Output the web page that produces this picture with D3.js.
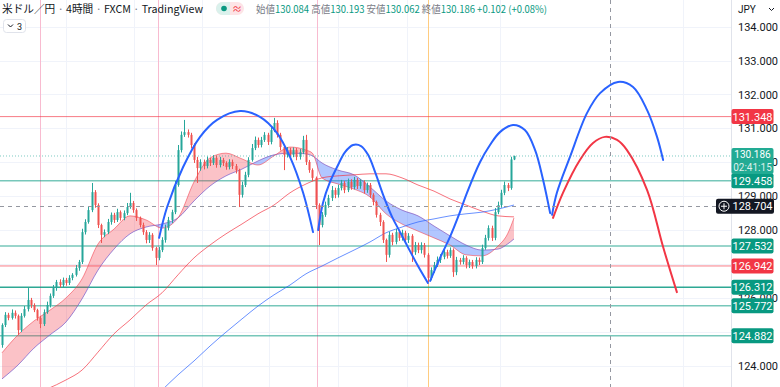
<!DOCTYPE html>
<html>
<head>
<meta charset="utf-8">
<script src="https://cdn.jsdelivr.net/npm/d3@7"></script>
<style>
  body { margin: 0; background: #fff; }
  svg { display: block; font-family: "Noto Sans CJK JP", Roboto, sans-serif; }
</style>
</head>
<body>
<svg id="chart" width="780" height="387"></svg>
<script>
// 4h candles, open of each bar = previous close
const firstOpen = 124.61;
const closes = [
  125.20,125.50,125.41,125.56,125.47,125.05,125.47,125.67,125.94,125.79,
  125.64,125.41,125.23,125.58,125.79,126.06,126.29,126.47,126.38,126.53,
  126.44,126.59,126.68,126.88,127.06,127.94,128.24,128.59,129.12,128.74,
  128.15,127.86,127.94,128.24,128.45,128.30,128.53,128.36,128.50,128.68,
  128.80,128.59,128.36,128.15,127.94,127.71,127.86,127.47,127.18,127.41,
  127.71,128.06,128.30,128.53,129.33,130.36,130.81,130.89,130.81,130.51,
  130.07,129.83,130.01,129.89,130.07,129.98,130.13,129.92,130.07,129.98,
  129.86,130.01,129.89,129.77,129.04,129.33,129.63,130.07,130.42,130.66,
  130.51,130.66,130.81,130.60,130.95,131.16,130.81,130.45,130.22,130.36,
  130.22,130.36,130.16,130.30,130.66,130.01,129.77,129.54,128.74,128.15,
  128.45,128.74,128.95,129.18,129.04,129.24,129.39,129.18,129.42,129.27,
  129.48,129.30,129.42,129.18,129.33,129.04,128.83,128.45,128.24,127.71,
  127.27,127.86,127.65,127.94,127.77,127.92,127.71,127.83,127.35,127.56,
  127.41,127.56,127.27,126.59,126.82,126.97,127.12,127.21,127.35,127.24,
  127.41,126.76,127.12,127.06,127.18,126.97,127.06,126.94,127.12,127.06,
  127.47,127.77,128.06,127.77,128.53,128.74,129.10,129.33,129.24,130.084,
  130.186
];
// wick lengths beyond the body, in 0.01 yen
const wickUp = [
  5,8,6,10,7,4,8,9,35,6, 5,4,6,8,10,7,9,6,8,7, 6,8,5,9,6,10,8,12,27,6,
  5,4,8,9,7,6,10,5,8,12, 30,6,5,4,7,6,8,5,4,9, 8,10,9,7,12,15,10,36,8,6,
  5,9,8,7,10,6,8,7,9,6, 5,8,7,6,4,10,9,8,12,10, 7,9,8,6,10,15,8,6,5,9,
  7,8,6,9,12,15,6,5,4,5, 8,10,9,12,7,10,9,6,10,8, 9,6,8,5,7,6,5,4,6,5,
  4,9,6,10,7,9,6,8,5,9, 7,8,6,5,8,9,10,8,9,7, 8,5,9,6,8,5,7,6,8,7,
  10,9,8,7,12,10,9,10,6,8, 1
];
const wickDn = [
  8,6,7,5,8,14,6,5,7,9, 6,8,12,6,5,7,6,8,7,6, 8,6,7,5,8,6,7,5,6,8,
  9,24,7,6,8,9,6,8,7,6, 5,8,9,7,8,10,9,8,21,7, 6,8,7,9,6,5,7,6,8,10,
  9,44,8,10,7,9,6,8,7,9, 8,7,9,10,36,8,6,7,5,6, 8,7,6,9,7,6,8,10,45,8,
  9,7,10,8,6,9,8,10,12,59, 7,6,8,9,10,8,7,9,6,8, 7,9,8,10,8,9,10,8,12,9,
  21,8,10,7,9,8,10,9,29,8, 9,10,8,12,7,8,6,9,7,8, 6,14,9,8,7,10,9,8,7,9,
  6,5,8,9,7,6,8,7,9,5, 2
];

// MA ribbon (fast / slow), sampled by bar index
const ribbonIdx = [0,5,10,15,20,25,30,35,40,45,50,55,60,65,70,75,80,85,90,95,97,100,105,110,115,120,125,130,135,140,145,150,155,158,160];
const fastMA = [124.38,124.91,125.32,125.64,126.00,126.56,127.59,128.03,128.42,128.30,128.06,128.36,129.42,130.13,130.27,130.10,129.92,130.19,130.45,130.36,130.27,129.54,129.36,129.21,128.98,128.48,128.18,127.97,127.77,127.56,127.27,127.24,127.53,127.89,128.36];
const slowMA = [123.61,124.02,124.52,124.91,125.29,125.97,126.82,127.44,127.89,128.09,128.18,128.36,128.86,129.30,129.60,129.80,130.04,130.22,130.27,130.25,130.19,129.98,129.77,129.63,129.27,128.86,128.59,128.42,128.12,127.83,127.56,127.41,127.44,127.59,127.74];

const ma75Idx = [14,20,25,30,35,40,45,50,55,60,65,70,75,80,85,90,95,100,105,110,115,120,125,130,135,140,145,150,155,160];
const ma75 = [123.31,123.58,123.87,124.40,124.94,125.35,125.79,126.15,126.68,127.18,127.56,127.89,128.18,128.48,128.74,129.10,129.36,129.54,129.60,129.63,129.66,129.66,129.54,129.33,129.15,128.92,128.74,128.56,128.42,128.39];
const ma200Idx = [50,55,60,65,70,75,80,85,90,95,100,105,110,115,120,125,130,135,140,145,150,155,160];
const ma200 = [123.28,123.73,124.14,124.58,124.99,125.38,125.76,126.09,126.38,126.71,126.94,127.18,127.41,127.65,127.92,128.09,128.24,128.33,128.42,128.48,128.53,128.62,128.74];

// hand-drawn arcs [bar index, price]
const blueArcs = [
  [[49.1,127.77],[51.6,128.68],[56.6,129.86],[61.9,130.75],[67.2,131.25],[74.4,131.51],[80.6,131.34],[85.9,130.87],[90.0,130.16],[94.1,129.10],[97.2,127.94]],
  [[98.8,128.00],[100.3,128.80],[102.5,129.42],[104.7,129.86],[107.2,130.30],[109.7,130.51],[112.2,130.48],[114.4,130.22],[116.6,129.71],[119.1,129.04],[121.9,128.39],[124.4,127.94],[127.5,127.38],[130.0,126.94],[133.1,126.44]],
  [[133.8,126.50],[136.9,127.18],[140.0,127.80],[143.1,128.53],[145.3,129.10],[149.4,130.01],[152.5,130.51],[155.6,130.89],[159.7,131.10],[163.4,130.95],[166.6,130.36],[169.1,129.48],[171.3,128.50]],
  [[171.9,128.45],[173.4,129.10],[177.5,130.16],[182.8,131.45],[186.9,132.04],[192.5,132.37],[197.2,132.22],[201.6,131.54],[204.7,130.75],[206.6,130.07]]
];
const redArc = [[172.2,128.36],[175.3,129.10],[180.6,130.07],[184.7,130.57],[188.4,130.75],[192.2,130.66],[195.3,130.36],[201.6,129.18],[206.6,127.50],[210.9,126.17]];

const redLevels = [131.348, 126.942];
const greenLevels = [129.458, 127.532, 126.312, 125.772, 124.882];
const lastPrice = 130.186;
const countdown = "02:41:15";
const crossPrice = 128.704;
const priceTicks = [124,125,126,127,128,129,130,131,132,133,134];
const gridIdx = [20, 41.3, 62.5, 83.4, 105, 126.6, 155.6, 212.8];
const sessionIdx = [11.9, 48.75, 98.4];
const highlightIdx = 133.1;
const crossIdx = 190;

const W = 780, H = 387, plotR = 731;
const svg = d3.select("#chart");
const x = d3.scaleLinear().domain([0, 160]).range([2, 514]);
const y = d3.scaleLinear().domain([124, 134]).range([365.7, 26.7]);

const defs = svg.append("defs");
defs.append("clipPath").attr("id", "pane").append("rect")
  .attr("x", 0).attr("y", 0).attr("width", plotR).attr("height", H);

const pane = svg.append("g").attr("clip-path", "url(#pane)");

// grid
pane.selectAll(".hg").data(priceTicks).join("line")
  .attr("x1", 0).attr("x2", plotR)
  .attr("y1", d => Math.round(y(d)) + 0.5).attr("y2", d => Math.round(y(d)) + 0.5)
  .attr("stroke", "#f0f3fa");
pane.selectAll(".vg").data(gridIdx).join("line")
  .attr("x1", d => Math.round(x(d)) + 0.5).attr("x2", d => Math.round(x(d)) + 0.5)
  .attr("y1", 0).attr("y2", H)
  .attr("stroke", "#f0f3fa");

// session markers
pane.selectAll(".sess").data(sessionIdx).join("line")
  .attr("x1", d => Math.round(x(d)) + 0.5).attr("x2", d => Math.round(x(d)) + 0.5)
  .attr("y1", 0).attr("y2", H)
  .attr("stroke", "#f8bbd0").attr("stroke-width", 1);
pane.append("line")
  .attr("x1", Math.round(x(highlightIdx)) + 0.5).attr("x2", Math.round(x(highlightIdx)) + 0.5)
  .attr("y1", 0).attr("y2", H)
  .attr("stroke", "#ffcc80").attr("stroke-width", 1);

// horizontal levels
pane.selectAll(".rl").data(redLevels).join("line")
  .attr("x1", 0).attr("x2", plotR)
  .attr("y1", d => y(d)).attr("y2", d => y(d))
  .attr("stroke", "#f23645").attr("stroke-opacity", 0.65).attr("stroke-width", 1);
pane.selectAll(".gl").data(greenLevels).join("line")
  .attr("x1", 0).attr("x2", plotR)
  .attr("y1", d => y(d)).attr("y2", d => y(d))
  .attr("stroke", "#089981").attr("stroke-opacity", d => d === 126.312 ? 0.85 : 0.55)
  .attr("stroke-width", 1.5);

// ribbon
const rib = ribbonIdx.map((i, k) => ({ i, fast: fastMA[k], slow: slowMA[k] }));
const curve = d3.curveMonotoneX;
defs.append("clipPath").attr("id", "aboveSlow").append("path")
  .attr("d", d3.area().x(d => x(d.i)).y0(0).y1(d => y(d.slow)).curve(curve)(rib));
defs.append("clipPath").attr("id", "belowSlow").append("path")
  .attr("d", d3.area().x(d => x(d.i)).y0(d => y(d.slow)).y1(H).curve(curve)(rib));
const band = d3.area().x(d => x(d.i)).y0(d => y(d.slow)).y1(d => y(d.fast)).curve(curve);
pane.append("g").attr("clip-path", "url(#aboveSlow)").append("path")
  .attr("d", band(rib)).attr("fill", "rgba(242,54,69,0.3)");
pane.append("g").attr("clip-path", "url(#belowSlow)").append("path")
  .attr("d", band(rib)).attr("fill", "rgba(41,98,255,0.36)");
pane.append("path")
  .attr("d", d3.line().x(d => x(d.i)).y(d => y(d.slow)).curve(curve)(rib))
  .attr("fill", "none").attr("stroke", "#7e57c2").attr("stroke-opacity", 0.7);
pane.append("path")
  .attr("d", d3.line().x(d => x(d.i)).y(d => y(d.fast)).curve(curve)(rib))
  .attr("fill", "none").attr("stroke", "#f23645").attr("stroke-opacity", 0.55);

// moving averages
pane.append("path")
  .attr("d", d3.line().x((d, k) => x(ma75Idx[k])).y(d => y(d)).curve(curve)(ma75))
  .attr("fill", "none").attr("stroke", "#f23645").attr("stroke-opacity", 0.7);
pane.append("path")
  .attr("d", d3.line().x((d, k) => x(ma200Idx[k])).y(d => y(d)).curve(curve)(ma200))
  .attr("fill", "none").attr("stroke", "#2962ff").attr("stroke-opacity", 0.7);

// candles
const bars = closes.map((c, i) => {
  const o = i === 0 ? firstOpen : closes[i - 1];
  return { i, o, c, h: Math.max(o, c) + wickUp[i] / 100, l: Math.min(o, c) - wickDn[i] / 100 };
});
const candles = pane.append("g");
candles.selectAll("line").data(bars).join("line")
  .attr("x1", d => Math.round(x(d.i)) + 0.5).attr("x2", d => Math.round(x(d.i)) + 0.5)
  .attr("y1", d => y(d.h)).attr("y2", d => y(d.l))
  .attr("stroke", d => d.c >= d.o ? "#26a69a" : "#ef5350");
candles.selectAll("rect").data(bars).join("rect")
  .attr("x", d => Math.round(x(d.i)) - 0.5).attr("width", 2)
  .attr("y", d => y(Math.max(d.o, d.c)))
  .attr("height", d => Math.max(1, y(Math.min(d.o, d.c)) - y(Math.max(d.o, d.c))))
  .attr("fill", d => d.c >= d.o ? "#26a69a" : "#ef5350");

// arcs
const arcLine = d3.line().x(d => x(d[0])).y(d => y(d[1])).curve(d3.curveCatmullRom.alpha(0.5));
pane.selectAll(".barc").data(blueArcs).join("path")
  .attr("d", arcLine).attr("fill", "none")
  .attr("stroke", "#2962ff").attr("stroke-width", 2).attr("stroke-linecap", "round");
pane.append("path").attr("d", arcLine(redArc)).attr("fill", "none")
  .attr("stroke", "#f23645").attr("stroke-width", 2).attr("stroke-linecap", "round");

// last price + crosshair
pane.append("line")
  .attr("x1", 0).attr("x2", plotR).attr("y1", y(lastPrice)).attr("y2", y(lastPrice))
  .attr("stroke", "#26a69a").attr("stroke-opacity", 0.6).attr("stroke-dasharray", "1,2");
pane.append("line")
  .attr("x1", 0).attr("x2", plotR).attr("y1", Math.round(y(crossPrice)) + 0.5).attr("y2", Math.round(y(crossPrice)) + 0.5)
  .attr("stroke", "#9598a1").attr("stroke-dasharray", "4,4");
pane.append("line")
  .attr("x1", Math.round(x(crossIdx)) + 0.5).attr("x2", Math.round(x(crossIdx)) + 0.5).attr("y1", 0).attr("y2", H)
  .attr("stroke", "#9598a1").attr("stroke-dasharray", "4,4");

// price axis
const tagPrices = redLevels.concat(greenLevels, [lastPrice]);
const shownTicks = priceTicks.filter(t => !tagPrices.some(p => Math.abs(y(p) - y(t)) < 6));
svg.append("line").attr("x1", plotR + 0.5).attr("x2", plotR + 0.5).attr("y1", 0).attr("y2", H).attr("stroke", "#e0e3eb");
svg.selectAll(".tick").data(shownTicks).join("text")
  .attr("x", 738).attr("y", d => y(d) + 4)
  .attr("font-family", "Roboto, sans-serif").attr("font-size", 11).attr("fill", "#131722")
  .text(d => d.toFixed(3));
svg.append("text").attr("x", 738).attr("y", 13).attr("font-family", "Roboto, sans-serif")
  .attr("font-size", 10).attr("fill", "#131722").text("JPY");
svg.append("path").attr("d", "M769,8 l2.5,2.5 l2.5,-2.5").attr("fill", "none").attr("stroke", "#131722");

const tags = redLevels.map(p => ({ p, c: "#f23645" })).concat(greenLevels.map(p => ({ p, c: "#089981" })));
const tg = svg.selectAll(".tag").data(tags).join("g");
tg.append("rect").attr("x", plotR + 0.5).attr("y", d => y(d.p) - 7.5).attr("width", 42).attr("height", 15).attr("rx", 2).attr("fill", d => d.c);
tg.append("text").attr("x", 752.5).attr("y", d => y(d.p) + 4).attr("text-anchor", "middle")
  .attr("font-family", "Roboto, sans-serif").attr("font-size", 11).attr("fill", "#fff").text(d => d.p.toFixed(3));

// current price tag with countdown
svg.append("rect").attr("x", plotR + 0.5).attr("y", y(lastPrice) - 8).attr("width", 42).attr("height", 26).attr("rx", 2).attr("fill", "#22ab94");
svg.append("text").attr("x", 752.5).attr("y", y(lastPrice) + 2.5).attr("text-anchor", "middle")
  .attr("font-family", "Roboto, sans-serif").attr("font-size", 10).attr("fill", "#fff").text(lastPrice.toFixed(3));
svg.append("text").attr("x", 752.5).attr("y", y(lastPrice) + 15.5).attr("text-anchor", "middle")
  .attr("font-family", "Roboto, sans-serif").attr("font-size", 10).attr("fill", "#fff").attr("fill-opacity", 0.85).text(countdown);

// crosshair price tag
svg.append("rect").attr("x", 716).attr("y", y(crossPrice) - 7.5).attr("width", 58).attr("height", 15).attr("rx", 2).attr("fill", "#131722");
svg.append("circle").attr("cx", 724).attr("cy", y(crossPrice)).attr("r", 5).attr("fill", "none").attr("stroke", "#fff");
svg.append("path").attr("d", `M721,${y(crossPrice)} h6 M724,${y(crossPrice) - 3} v6`).attr("stroke", "#fff");
svg.append("text").attr("x", 752.5).attr("y", y(crossPrice) + 4).attr("text-anchor", "middle")
  .attr("font-family", "Roboto, sans-serif").attr("font-size", 11).attr("fill", "#fff").text(crossPrice.toFixed(3));

// header
const head = svg.append("text").attr("x", 2).attr("y", 13).attr("font-size", 11).attr("fill", "#131722")
  .attr("textLength", 201).attr("lengthAdjust", "spacingAndGlyphs");
const titleParts = ["米ドル／円", "4時間", "FXCM", "TradingView"];
titleParts.forEach((t, k) => {
  if (k > 0) head.append("tspan").attr("fill", "#787b86").text(" · ");
  head.append("tspan").text(t);
});
const badge = svg.append("g");
badge.append("rect").attr("x", 216).attr("y", 2).attr("width", 28).attr("height", 13).attr("rx", 6.5).attr("fill", "#fde4e6");
badge.append("path").attr("d", "M222.5,2 H230 V15 H222.5 A6.5,6.5 0 0 1 222.5,2 Z").attr("fill", "#daf1ec");
badge.append("circle").attr("cx", 224).attr("cy", 8.5).attr("r", 2.8).attr("fill", "#089981");
badge.append("text").attr("x", 237).attr("y", 12.5).attr("text-anchor", "middle").attr("font-size", 10).attr("fill", "#f23645").text("≈");

const ohlcLabels = ["始値", "高値", "安値", "終値"];
const ohlcValues = ["130.084", "130.193", "130.062", "130.186"];
const ohlc = svg.append("text").attr("x", 256).attr("y", 13).attr("font-size", 10)
  .attr("textLength", 291).attr("lengthAdjust", "spacingAndGlyphs");
ohlcLabels.forEach((l, k) => {
  ohlc.append("tspan").attr("fill", "#787b86").text((k ? " " : "") + l);
  ohlc.append("tspan").attr("fill", "#089981").text(ohlcValues[k]);
});
ohlc.append("tspan").attr("fill", "#089981").text(" +0.102 (+0.08%)");

const legendBtn = svg.append("g");
legendBtn.append("rect").attr("x", 3.5).attr("y", 19.5).attr("width", 22).attr("height", 13).attr("rx", 3).attr("fill", "#fff").attr("stroke", "#e0e3eb");
legendBtn.append("path").attr("d", "M8,24.5 l2.5,2.5 l2.5,-2.5").attr("fill", "none").attr("stroke", "#131722");
legendBtn.append("text").attr("x", 17).attr("y", 29.5).attr("font-family", "Roboto, sans-serif").attr("font-size", 9).attr("fill", "#131722").text("3");
</script>
</body>
</html>
